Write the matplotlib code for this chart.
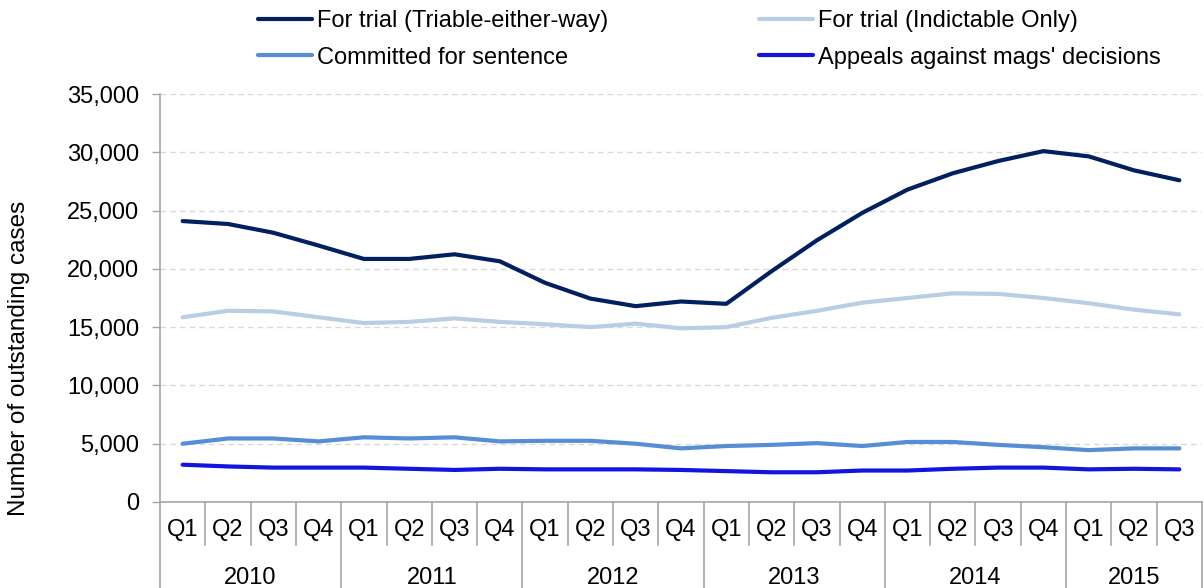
import matplotlib
matplotlib.use("Agg")
import matplotlib.pyplot as plt
import matplotlib.transforms as mtransforms
from matplotlib.ticker import FuncFormatter

plt.rcParams["font.family"] = ["Liberation Sans", "DejaVu Sans"]

years = ["2010", "2011", "2012", "2013", "2014", "2015"]
quarters = ["Q1", "Q2", "Q3", "Q4"] * 5 + ["Q1", "Q2", "Q3"]

triable = [24100, 23850, 23100, 22000, 20850, 20850, 21250, 20650,
           18800, 17450, 16800, 17200, 17000, 19800, 22450, 24800,
           26800, 28200, 29250, 30100, 29650, 28450, 27600]
indictable = [15850, 16400, 16350, 15850, 15350, 15450, 15750, 15450,
              15250, 15000, 15300, 14900, 15000, 15800, 16400, 17100,
              17500, 17900, 17850, 17500, 17050, 16500, 16100]
committed = [5000, 5450, 5450, 5200, 5550, 5450, 5550, 5200,
             5250, 5250, 5000, 4600, 4800, 4900, 5050, 4800,
             5150, 5150, 4900, 4700, 4450, 4600, 4600]
appeals = [3200, 3050, 2950, 2950, 2950, 2850, 2750, 2850,
           2800, 2800, 2800, 2750, 2650, 2550, 2550, 2700,
           2700, 2850, 2950, 2950, 2800, 2850, 2800]

series = [
    ("For trial (Triable-either-way)", triable, "#002060"),
    ("For trial (Indictable Only)", indictable, "#B9CDE5"),
    ("Committed for sentence", committed, "#558ED5"),
    ("Appeals against mags' decisions", appeals, "#1414E0"),
]

W, H = 1204, 588
fig = plt.figure(figsize=(W / 100, H / 100), dpi=100)
ax_l, ax_r, ax_b, ax_t = 160, 1202, 502, 94
ax = fig.add_axes([ax_l / W, 1 - ax_b / H, (ax_r - ax_l) / W, (ax_b - ax_t) / H])

x = list(range(len(quarters)))
lines = {}
for name, vals, col in series:
    (ln,) = ax.plot(x, vals, color=col, lw=3, solid_capstyle="round",
                    solid_joinstyle="round", label=name, zorder=3)
    lines[name] = ln

ax.set_xlim(-0.5, len(quarters) - 0.5)
ax.set_ylim(0, 35000)
ax.set_yticks(range(0, 35001, 5000))
ax.yaxis.set_major_formatter(FuncFormatter(lambda v, p: f"{int(v):,}"))
ax.tick_params(axis="y", direction="out", length=6, width=1, color="#A6A6A6",
               labelsize=17, pad=9, labelcolor="black")
ax.set_xticks([])
ax.grid(axis="y", color="#D9D9D9", linestyle=(0, (4, 3)), lw=1)
ax.set_axisbelow(True)
for s in ["top", "right"]:
    ax.spines[s].set_visible(False)
for s in ["left", "bottom"]:
    ax.spines[s].set_color("#A6A6A6")
    ax.spines[s].set_linewidth(1.2)

fig.text(19 / W, 1 - 358 / H, "Number of outstanding cases", rotation=90,
         ha="center", va="center", fontsize=17.5)

# two-level category axis
ah = ax_b - ax_t
trans = mtransforms.blended_transform_factory(ax.transData, ax.transAxes)
q_y = -(530 - ax_b) / ah
yr_y = -(578 - ax_b) / ah
q_bot = -(545 - ax_b) / ah
yr_bot = -(H - ax_b) / ah
for i, q in enumerate(quarters):
    ax.text(i, q_y, q, transform=trans, ha="center", va="center", fontsize=17)
for i in range(len(quarters) + 1):
    bottom = yr_bot if i % 4 == 0 or i == len(quarters) else q_bot
    ax.plot([i - 0.5, i - 0.5], [0, bottom], transform=trans, color="#A6A6A6",
            lw=1.2, clip_on=False)
for k, yr in enumerate(years):
    start = 4 * k
    end = min(4 * k + 3, len(quarters) - 1)
    ax.text((start + end) / 2, yr_y, yr, transform=trans, ha="center",
            va="center", fontsize=17)

# legend in two columns
leg_kw = dict(frameon=False, fontsize=17, handlelength=2.3, handletextpad=0.2,
              labelspacing=0.62, borderpad=0, borderaxespad=0, loc="upper left")
leg1 = fig.legend([lines[series[0][0]], lines[series[2][0]]],
                  [series[0][0], series[2][0]],
                  bbox_to_anchor=(258 / W, 1 - 10 / H), **leg_kw)
leg2 = fig.legend([lines[series[1][0]], lines[series[3][0]]],
                  [series[1][0], series[3][0]],
                  bbox_to_anchor=(759 / W, 1 - 10 / H), **leg_kw)

fig.savefig("out.png", dpi=100)
